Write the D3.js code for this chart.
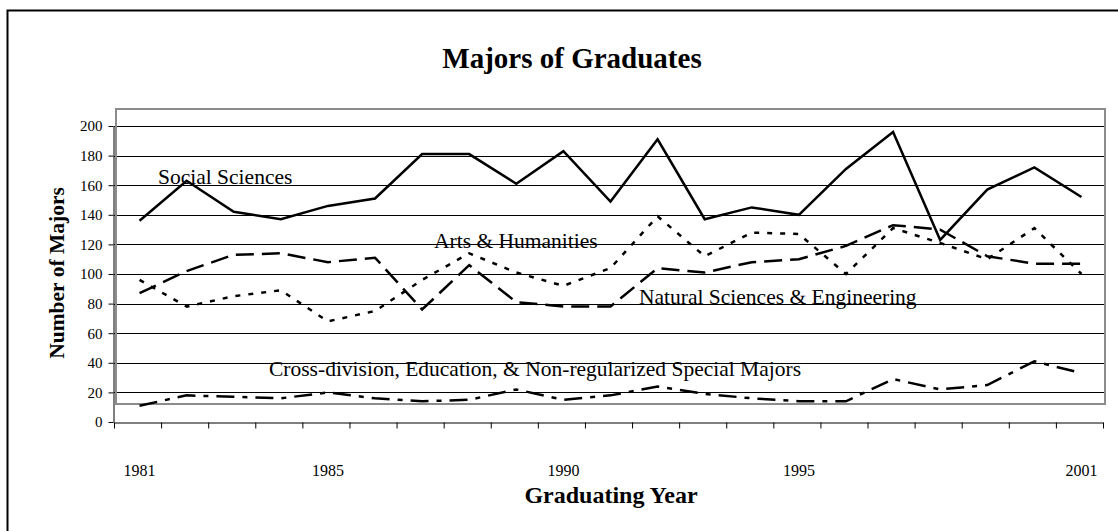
<!DOCTYPE html>
<html>
<head>
<meta charset="utf-8">
<script src="https://cdn.jsdelivr.net/npm/d3@7"></script>
<style>
  body { margin: 0; background: #fff; }
  svg text { font-family: "Liberation Serif", "Times New Roman", serif; fill: #000; }
</style>
</head>
<body>
<svg id="chart"></svg>
<script>
// Data
const years = d3.range(1981, 2002);
const yearLabels = [1981, 1985, 1990, 1995, 2001];
const yTicks = [0, 20, 40, 60, 80, 100, 120, 140, 160, 180, 200];

const socialSciences = [136, 163, 142, 137, 146, 151, 181, 181, 161, 183, 149, 191, 137, 145, 140, 171, 196, 123, 157, 172, 152];
const naturalSciences = [87, 102, 113, 114, 108, 111, 76, 106, 81, 78, 78, 104, 101, 108, 110, 119, 133, 130, 112, 107, 107];
const artsHumanities = [96, 78, 85, 89, 68, 75, 96, 114, 101, 92, 104, 139, 112, 128, 127, 100, 131, 121, 110, 131, 100];
const crossDivision = [11, 18, 17, 16, 20, 16, 14, 15, 22, 15, 18, 24, 19, 16, 14, 14, 29, 22, 25, 41, 33];

const seriesNames = ["Social Sciences", "Arts & Humanities", "Natural Sciences & Engineering",
    "Cross-division, Education, & Non-regularized Special Majors"];

function createChart() {
    const width = 1118;
    const height = 531;

    const svg = d3.select("#chart")
        .attr("width", width)
        .attr("height", height);

    // outer chart border (only left/top visible in the picture)
    svg.append("rect")
        .attr("x", 7.5)
        .attr("y", 10.5)
        .attr("width", width)
        .attr("height", height)
        .attr("fill", "none")
        .attr("stroke", "#000")
        .attr("stroke-width", 2);

    // scales
    const xScale = d3.scaleLinear()
        .domain([1980.5, 2001.5])
        .range([114, 1103]);

    const yScale = d3.scaleLinear()
        .domain([0, 200])
        .range([422, 126]);

    // gridlines
    svg.append("g")
        .selectAll("line")
        .data(yTicks.filter(d => d > 0))
        .enter()
        .append("line")
        .attr("x1", xScale(1980.5))
        .attr("x2", xScale(2001.5) + 1)
        .attr("y1", d => Math.round(yScale(d)) + 0.5)
        .attr("y2", d => Math.round(yScale(d)) + 0.5)
        .attr("stroke", "#000")
        .attr("stroke-width", 1);

    // plot area frame (grey, slightly offset like the original)
    svg.append("rect")
        .attr("x", 116)
        .attr("y", 109)
        .attr("width", 989)
        .attr("height", 295)
        .attr("fill", "none")
        .attr("stroke", "#8c8c8c")
        .attr("stroke-width", 2);

    // axes
    const xAxis = d3.axisBottom(xScale)
        .tickValues(years.map(y => y - 0.5).concat([2001.5]))
        .tickFormat("")
        .tickSize(6)
        .tickSizeOuter(0);

    const gx = svg.append("g")
        .attr("transform", "translate(0, 422.5)")
        .call(xAxis);
    gx.selectAll("line, path").attr("stroke", "#000");

    const yAxis = d3.axisLeft(yScale)
        .tickValues(yTicks)
        .tickSize(5)
        .tickSizeOuter(0)
        .tickPadding(6);

    const gy = svg.append("g")
        .attr("transform", "translate(113.5, 0)")
        .call(yAxis);
    gy.selectAll("line, path").attr("stroke", "#000");
    gy.selectAll("text")
        .style("font-family", "'Liberation Serif', 'Times New Roman', serif")
        .style("font-size", "15px")
        .attr("fill", "#000");

    // year labels
    svg.append("g")
        .selectAll("text")
        .data(yearLabels)
        .enter()
        .append("text")
        .attr("x", d => xScale(d) + 2)
        .attr("y", 476)
        .attr("text-anchor", "middle")
        .style("font-size", "16px")
        .text(d => d);

    // lines
    const line = d3.line()
        .x((d, i) => xScale(years[i]) + 2)
        .y(d => yScale(d));

    const series = [
        { values: socialSciences, dash: null },
        { values: naturalSciences, dash: "18,8" },
        { values: artsHumanities, dash: "5,8" },
        { values: crossDivision, dash: "18,8,5,8" }
    ];

    series.forEach(s => {
        svg.append("path")
            .datum(s.values)
            .attr("d", line)
            .attr("fill", "none")
            .attr("stroke", "#000")
            .attr("stroke-width", 2.5)
            .attr("stroke-dasharray", s.dash);
    });

    // series labels
    const labelPos = [[158, 184], [434, 248], [639, 304], [269, 376]];
    svg.append("g")
        .selectAll("text")
        .data(seriesNames)
        .enter()
        .append("text")
        .attr("x", (d, i) => labelPos[i][0])
        .attr("y", (d, i) => labelPos[i][1])
        .style("font-size", "21.5px")
        .text(d => d);

    // title
    svg.append("text")
        .attr("x", 572)
        .attr("y", 68)
        .attr("text-anchor", "middle")
        .style("font-size", "29px")
        .style("font-weight", "bold")
        .text("Majors of Graduates");

    // x-axis title
    svg.append("text")
        .attr("x", 611)
        .attr("y", 503)
        .attr("text-anchor", "middle")
        .style("font-size", "24px")
        .style("font-weight", "bold")
        .text("Graduating Year");

    // y-axis title
    svg.append("text")
        .attr("transform", "translate(64, 273) rotate(-90)")
        .attr("text-anchor", "middle")
        .style("font-size", "21.5px")
        .style("font-weight", "bold")
        .text("Number of Majors");
}

createChart();
</script>
</body>
</html>
